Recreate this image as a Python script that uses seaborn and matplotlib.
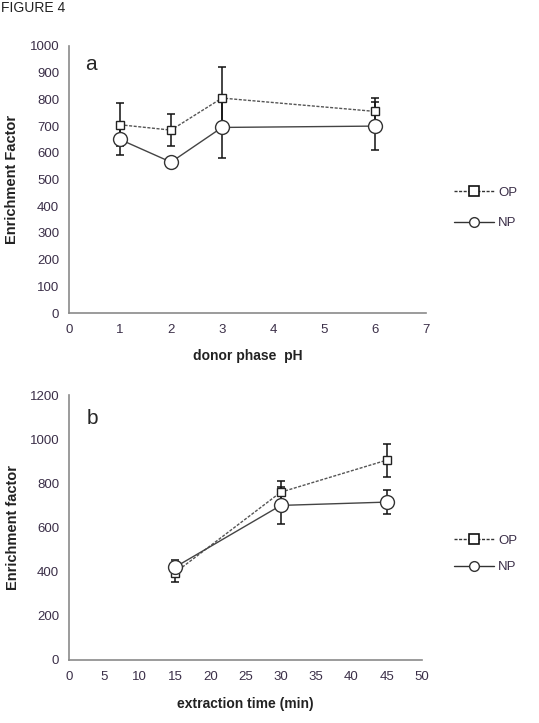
import numpy as np
import pandas as pd
import seaborn as sns
import matplotlib.pyplot as plt
from matplotlib.lines import Line2D

# panel a: donor phase pH
ph = [1, 2, 3, 6]
op_a = [705, 685, 805, 755]
op_a_err = [80, 60, 115, 50]
np_a = [650, 565, 695, 700]
np_a_err = [60, 10, 115, 90]

# panel b: extraction time
t_min = [15, 30, 45]
op_b = [395, 760, 905]
op_b_err = [40, 50, 75]
np_b = [420, 700, 715]
np_b_err = [35, 85, 55]

sns.set_style("white")
plt.rcParams['font.family'] = ['Liberation Sans', 'DejaVu Sans']

W, H = 539, 723
fig = plt.figure(figsize=(W / 100, H / 100), dpi=100)


def box(l, t, r, b):
    return [l / W, (H - b) / H, (r - l) / W, (b - t) / H]


ax_a = fig.add_axes(box(69, 46, 426, 313))
ax_b = fig.add_axes(box(69, 395, 422, 660))

tick_col = '#3b2f48'
spine_col = '#8a8a8a'
dash = (0, (2.2, 1.1))


def draw(ax, x, op, op_err, npv, np_err):
    df_op = pd.DataFrame({'x': x, 'y': op})
    df_np = pd.DataFrame({'x': x, 'y': npv})
    ax.errorbar(x, op, yerr=op_err, fmt='none', ecolor='#111111', elinewidth=1.1,
                capsize=3, capthick=1.1, zorder=2)
    ax.errorbar(x, npv, yerr=np_err, fmt='none', ecolor='#111111', elinewidth=1.1,
                capsize=3, capthick=1.1, zorder=2)
    sns.lineplot(data=df_op, x='x', y='y', ax=ax, color='#555555', lw=1.0,
                 linestyle=dash, marker='s', markersize=6,
                 markerfacecolor='white', markeredgecolor='#222222',
                 markeredgewidth=1.0, zorder=3)
    sns.lineplot(data=df_np, x='x', y='y', ax=ax, color='#444444', lw=1.0,
                 linestyle='-', marker='o', markersize=10,
                 markerfacecolor='white', markeredgecolor='#333333',
                 markeredgewidth=1.0, zorder=3)
    sns.despine(ax=ax)
    for s in ['left', 'bottom']:
        ax.spines[s].set_color(spine_col)
        ax.spines[s].set_linewidth(1.2)
    ax.tick_params(axis='both', direction='out', length=4, width=1,
                   color=spine_col, labelsize=9.5, labelcolor=tick_col, pad=3)
    ax.tick_params(axis='x', pad=4)


draw(ax_a, ph, op_a, op_a_err, np_a, np_a_err)
ax_a.set_xlim(0, 7)
ax_a.set_ylim(0, 1000)
ax_a.set_xticks(range(0, 8))
ax_a.set_yticks(range(0, 1001, 100))
ax_a.set_xlabel('donor phase  pH', fontsize=10, fontweight='bold', color='#222222')
ax_a.set_ylabel('Enrichment Factor', fontsize=10.5, fontweight='bold', color='#222222')
ax_a.xaxis.set_label_coords(0.5, -0.135)
ax_a.yaxis.set_label_coords(-0.14, 0.5)
ax_a.text(0.045, 0.93, 'a', transform=ax_a.transAxes, fontsize=15, va='center')

draw(ax_b, t_min, op_b, op_b_err, np_b, np_b_err)
ax_b.set_xlim(0, 50)
ax_b.set_ylim(0, 1200)
ax_b.set_xticks(range(0, 51, 5))
ax_b.set_yticks(range(0, 1201, 200))
ax_b.set_xlabel('extraction time (min)', fontsize=10, fontweight='bold', color='#222222')
ax_b.set_ylabel('Enrichment factor', fontsize=10.5, fontweight='bold', color='#222222')
ax_b.xaxis.set_label_coords(0.5, -0.14)
ax_b.yaxis.set_label_coords(-0.14, 0.5)
ax_b.text(0.05, 0.91, 'b', transform=ax_b.transAxes, fontsize=15, va='center')

handles = [
    Line2D([], [], color='#333333', lw=1.0, linestyle=dash, marker='s',
           markersize=7, markerfacecolor='white', markeredgecolor='#111111',
           markeredgewidth=1.2),
    Line2D([], [], color='#333333', lw=1.0, linestyle='-', marker='o',
           markersize=7, markerfacecolor='white', markeredgecolor='#333333'),
]
for ax, yc, sp in [(ax_a, 208, 1.35), (ax_b, 554, 1.1)]:
    fig.legend(handles, ['OP', 'NP'], loc='center left',
               bbox_to_anchor=(454 / W, (H - yc) / H), frameon=False,
               fontsize=9.5, handlelength=3.0, handletextpad=0.35,
               labelspacing=sp, labelcolor=tick_col, borderaxespad=0,
               borderpad=0)

fig.text(0.002, 0.999, 'FIGURE 4', fontsize=10, color='#222222', va='top')

fig.savefig('out.png', dpi=100)
